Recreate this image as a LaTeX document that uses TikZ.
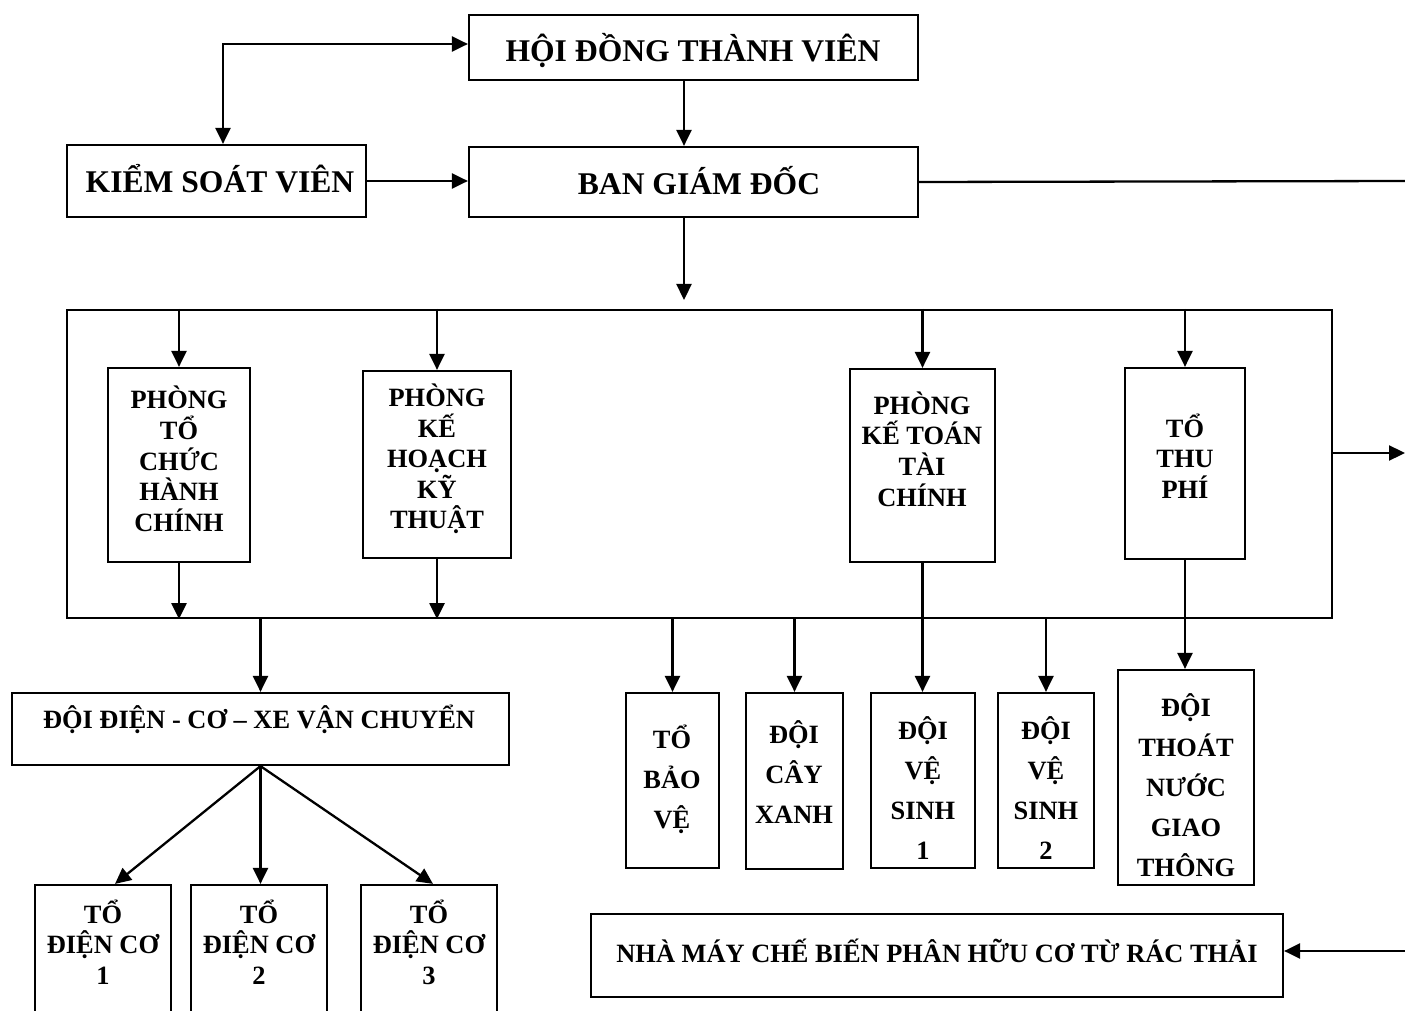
\documentclass[tikz,border=0pt]{standalone}
\usepackage{fontspec}
\setmainfont{Liberation Serif}
\usetikzlibrary{arrows.meta,fit}

\tikzset{
  box/.style={draw, line width=1.1pt, inner sep=0pt},
  lbl/.style={font=\bfseries\fontsize{15.8}{19}\selectfont, align=center, inner sep=0pt},
  sub/.style={font=\bfseries\fontsize{13.2}{15.3}\selectfont, align=center, inner sep=0pt},
  tall/.style={font=\bfseries\fontsize{13.2}{20}\selectfont, align=center, inner sep=0pt},
  conn/.style={line width=1.15pt},
  arr/.style={conn, -{Triangle[length=8pt,width=7.5pt]}},
  both/.style={conn, {Triangle[length=8pt,width=7.5pt]}-{Triangle[length=8pt,width=7.5pt]}}
}

\begin{document}
\begin{tikzpicture}[x=0.5pt, y=-0.5pt]
    \useasboundingbox (0,0) rectangle (1405,1011);

    % ban lanh dao
    \node[box, fit={(469,15) (918,80)}] (hdtv) {};
    \node[lbl, anchor=base] (hdtv-t) at (693,62) {HỘI ĐỒNG THÀNH VIÊN};
    \node[box, fit={(67,145) (366,217)}] (ksv) {};
    \node[lbl, anchor=base] (ksv-t) at (220,193) {KIỂM SOÁT VIÊN};
    \node[box, fit={(469,147) (918,217)}] (bgd) {};
    \node[lbl, anchor=base] (bgd-t) at (699,195) {BAN GIÁM ĐỐC};

    % khoi phong ban
    \node[box, fit={(67,310) (1332,618)}] (khoi) {};
    \coordinate (vao) at (684,300);
    \coordinate (ra) at (1405,453);
    \node[box, fit={(108,368) (250,562)}] (ptchc) {};
    \node[sub] (ptchc-t) at (179,459) {PHÒNG\\TỔ\\CHỨC\\HÀNH\\CHÍNH};
    \node[box, fit={(363,371) (511,558)}] (pkhkt) {};
    \node[sub] (pkhkt-t) at (437,459) {PHÒNG\\KẾ\\HOẠCH\\KỸ\\THUẬT};
    \node[box, fit={(850,369) (995,562)}] (pkttc) {};
    \node[sub] (pkttc-t) at (922,449) {PHÒNG\\KẾ TOÁN\\TÀI\\CHÍNH};
    \node[box, fit={(1125,368) (1245,559)}] (ttp) {};
    \node[sub] (ttp-t) at (1185,456) {TỔ\\THU\\PHÍ};

    % doi, to
    \node[box, fit={(12,693) (509,765)}] (dien) {};
    \node[sub, anchor=base] (dien-t) at (259,728) {ĐỘI ĐIỆN - CƠ – XE VẬN CHUYỂN};
    \node[box, fit={(35,885) (171,1030)}] (dc1) {};
    \node[sub] (dc1-t) at (103,942) {TỔ\\ĐIỆN CƠ\\1};
    \node[box, fit={(191,885) (327,1030)}] (dc2) {};
    \node[sub] (dc2-t) at (259,942) {TỔ\\ĐIỆN CƠ\\2};
    \node[box, fit={(361,885) (497,1030)}] (dc3) {};
    \node[sub] (dc3-t) at (429,942) {TỔ\\ĐIỆN CƠ\\3};

    \node[box, fit={(626,693) (719,868)}] (baove) {};
    \node[tall] (baove-t) at (672,779) {TỔ\\BẢO\\VỆ};
    \node[box, fit={(746,693) (843,869)}] (cayxanh) {};
    \node[tall] (cayxanh-t) at (794,772) {ĐỘI\\CÂY\\XANH};
    \node[box, fit={(871,693) (975,868)}] (vs1) {};
    \node[tall] (vs1-t) at (923,788) {ĐỘI\\VỆ\\SINH\\1};
    \node[box, fit={(998,693) (1094,868)}] (vs2) {};
    \node[tall] (vs2-t) at (1046,788) {ĐỘI\\VỆ\\SINH\\2};
    \node[box, fit={(1118,670) (1254,885)}] (tnuoc) {};
    \node[tall] (tnuoc-t) at (1186,785) {ĐỘI\\THOÁT\\NƯỚC\\GIAO\\THÔNG};
    \node[box, fit={(591,914) (1283,997)}] (nhamay) {};
    \node[sub, anchor=base] (nhamay-t) at (937,962) {NHÀ MÁY CHẾ BIẾN PHÂN HỮU CƠ TỪ RÁC THẢI};
    \coordinate (p1) at (1408,181);
    \coordinate (p2) at (1408,951);

    % ket noi
    \draw[both] ([yshift=1.75pt]hdtv.west) -| ([xshift=3.25pt]ksv.north);
    \draw[arr] (ksv.east) -- (ksv.east -| bgd.west);
    \draw[arr] (hdtv.south -| 684,0) -- (bgd.north -| 684,0);
    \draw[arr] (bgd.south -| 684,0) -- (vao);
    \draw[conn] (bgd.east) -- (p1) -- (p2);
    \draw[arr] (p2) -- (nhamay.east |- p2);
    \draw[arr] (khoi.east |- ra) -- (ra);

    \foreach \n in {ptchc,pkhkt,pkttc,ttp}
        \draw[arr] (khoi.north -| \n.north) -- (\n.north);
    \foreach \n in {ptchc,pkhkt}
        \draw[arr] (\n.south) -- (\n.south |- khoi.south);
    \draw[arr] (pkttc.south) -- (pkttc.south |- vs1.north);
    \draw[arr] (ttp.south) -- (ttp.south |- tnuoc.north);
    \foreach \n in {dien,baove,cayxanh,vs2}
        \draw[arr] (khoi.south -| \n.north) -- (\n.north);

    \draw[arr] (dien.south) -- ([xshift=6pt]dc1.north);
    \draw[arr] (dien.south) -- (dien.south |- dc2.north);
    \draw[arr] (dien.south) -- ([xshift=2pt]dc3.north);
\end{tikzpicture}
\end{document}
